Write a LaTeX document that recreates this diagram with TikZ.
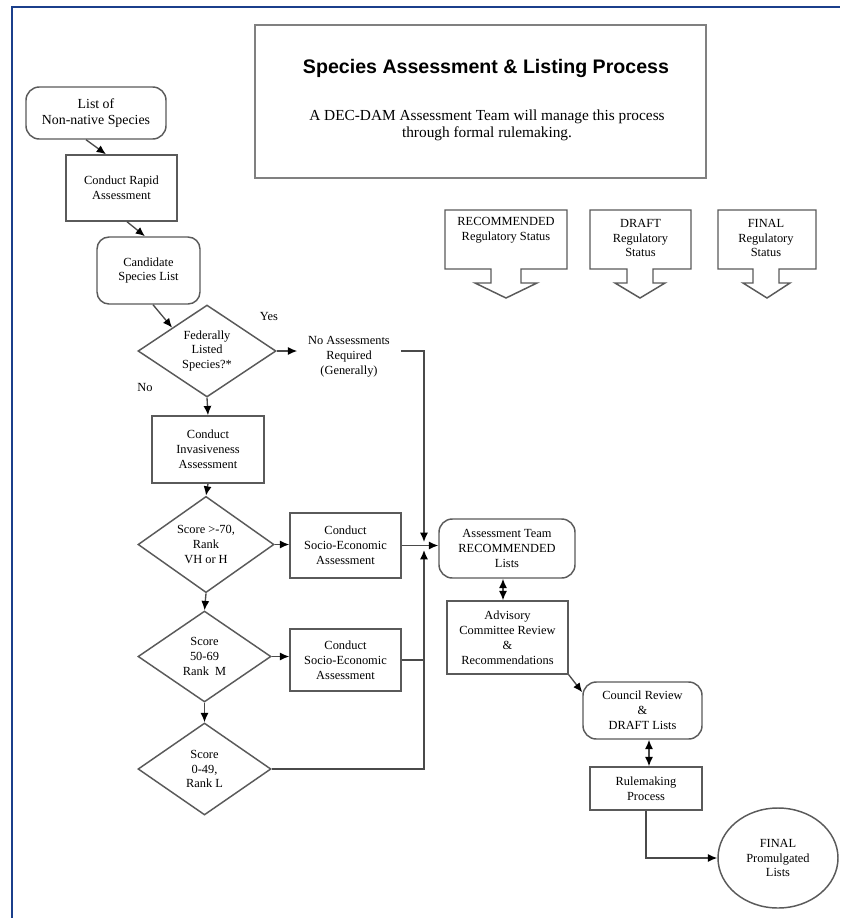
\documentclass[tikz,border=0pt]{standalone}
\usepackage{fontspec}
\setmainfont{Liberation Serif}
\newfontfamily\titlefont{Liberation Sans}
\usetikzlibrary{shapes.geometric,arrows.meta,calc}
\definecolor{frameblue}{HTML}{1B3F8B}
\definecolor{edgegray}{HTML}{5A5A5A}
\definecolor{linegray}{HTML}{4A4A4A}
\begin{document}
\begin{tikzpicture}[x=0.75pt,y=-0.75pt,
  font=\fontsize{9.3}{11.2}\selectfont,
  box/.style={draw=edgegray, line width=1.1pt, align=center, inner sep=1pt},
  rbox/.style={box, rounded corners=9pt},
  dia/.style={diamond, draw=edgegray, line width=1.1pt, align=center, inner sep=0pt},
  conn/.style={draw=linegray, line width=1pt},
  arr/.style={conn, -{Latex[length=7pt,width=6pt,color=black]}},
  darr/.style={conn, {Latex[length=7pt,width=6pt,color=black]}-{Latex[length=7pt,width=6pt,color=black]}},
  callout/.style={draw=edgegray, line width=1.1pt, fill=white},
  lbl/.style={align=center, inner sep=1pt}]
\useasboundingbox (0,0) rectangle (840,918);
\fill[white] (0,0) rectangle (840,918);
\draw[frameblue, line width=2.2pt] (12,918) -- (12,7) -- (840,7);

% title box
\node[draw=gray, line width=1.5pt, minimum width=338.25pt, minimum height=114.75pt] (tbox) at (480.5,101.5) {};
\node[font=\titlefont\bfseries\fontsize{14.7}{17}\selectfont] (title) at (486,68) {Species Assessment \& Listing Process};
\node[lbl, font=\fontsize{11.5}{12.8}\selectfont] (sub) at (487,125.5) {A DEC-DAM Assessment Team will manage this process\\through formal rulemaking.};

% status callouts
\draw[callout] (445,210) -- (567,210) -- (567,269) -- (521,269) -- (521,283) -- (537,283) -- (506,298) -- (475,283) -- (491,283) -- (491,269) -- (445,269) -- cycle;
\node[lbl] (s1) at (506,230.5) {RECOMMENDED\\Regulatory Status};
\draw[callout] (590,210) -- (691,210) -- (691,269) -- (653,269) -- (653,283) -- (665,283) -- (640,298) -- (615,283) -- (627,283) -- (627,269) -- (590,269) -- cycle;
\node[lbl] (s2) at (640.5,238) {DRAFT\\Regulatory\\Status};
\draw[callout] (718,210) -- (816,210) -- (816,269) -- (779,269) -- (779,283) -- (790,283) -- (767,298) -- (743,283) -- (753,283) -- (753,269) -- (718,269) -- cycle;
\node[lbl] (s3) at (766,238) {FINAL\\Regulatory\\Status};

% left column
\node[rbox, rounded corners=10pt, minimum width=105pt, minimum height=39pt, font=\fontsize{10.4}{12}\selectfont] (list) at (96,113) {List of\\Non-native Species};
\node[box, minimum width=83.25pt, minimum height=49.5pt] (rapid) at (121.5,188) {Conduct Rapid\\Assessment};
\node[rbox, minimum width=77.25pt, minimum height=50.25pt] (cand) at (148.5,270.5) {Candidate\\Species List};
\node[dia, minimum width=103.5pt, minimum height=69pt] (d1) at (207,351) {Federally\\Listed\\Species?*};
\node[box, minimum width=84pt, minimum height=50.25pt] (inv) at (208,449.5) {Conduct\\Invasiveness\\Assessment};
\node[dia, minimum width=102pt, minimum height=69.75pt] (d2) at (206,544.5) {Score >-70,\\Rank\\VH or H};
\node[dia, minimum width=99.75pt, minimum height=68.25pt] (d3) at (204.5,656.5) {Score\\50-69\\Rank~~M};
\node[dia, minimum width=99.75pt, minimum height=69pt] (d4) at (204.5,769) {Score\\0-49,\\Rank L};
\node[box, minimum width=83.25pt, minimum height=48.75pt] (soc1) at (345.5,545.5) {Conduct\\Socio-Economic\\Assessment};
\node[box, minimum width=83.25pt, minimum height=46.5pt] (soc2) at (345.5,660) {Conduct\\Socio-Economic\\Assessment};
\node[lbl, inner xsep=8pt] (noas) at (349,357) {No Assessments\\Required\\(Generally)};
\node[lbl] (yes) at (269,316) {Yes};
\node[lbl] (no) at (145,387) {No};

% right column
\node[rbox, rounded corners=10pt, minimum width=102pt, minimum height=44.25pt] (at) at (507,548.5) {Assessment Team\\RECOMMENDED\\Lists};
\node[box, minimum width=90.75pt, minimum height=54.75pt] (adv) at (507.5,637.5) {Advisory\\Committee Review\\\&\\Recommendations};
\node[rbox, rounded corners=10pt, minimum width=89.25pt, minimum height=42.75pt] (coun) at (642.5,710.5) {Council Review\\\&\\DRAFT Lists};
\node[box, minimum width=84pt, minimum height=32.25pt] (rule) at (646,788.5) {Rulemaking\\Process};
\node[ellipse, draw=edgegray, line width=1.1pt, minimum width=90pt, minimum height=75pt, align=center, inner sep=0pt] (fin) at (778,858) {FINAL\\Promulgated\\Lists};

% connectors
\coordinate (jn) at (424,546);
\draw[arr] ($(list.south)+(-10,0)$) -- ($(rapid.north)+(-15.5,0)$);
\draw[arr] ($(rapid.south)+(5.5,0)$) -- ($(cand.north)+(-3.5,0)$);
\draw[arr] ($(cand.south)+(4.5,0)$) -- (d1.north west);
\draw[arr] (d1.east) -- (d1.east -| noas.west);
\draw[arr] (d1.south) -- (inv.north);
\draw[arr] (inv.south) -- (d2.north);
\draw[arr] (d2.east) -- (d2.east -| soc1.west);
\draw[arr] (d2.south) -- (d3.north);
\draw[arr] (d3.east) -- (d3.east -| soc2.west);
\draw[arr] (d3.south) -- (d4.north);
\draw[arr] (noas.east |- d1.east) -| ($(jn)+(0,-4)$);
\draw[arr] (soc1.east) -- (soc1.east -| at.west);
\draw[conn] (soc2.east) -- (soc2.east -| jn);
\draw[arr] (d4.east) -| ($(jn)+(0,4)$);
\draw[darr] ($(at.south)+(-4,0)$) -- ($(adv.north)+(-4.5,0)$);
\draw[arr] (adv.south east) -- ($(coun.north west)+(0,11)$);
\draw[darr] ($(rule.north)+(3,0)$) -- ($(coun.south)+(6.5,0)$);
\draw[arr] (rule.south) |- (fin.west);
\end{tikzpicture}
\end{document}
